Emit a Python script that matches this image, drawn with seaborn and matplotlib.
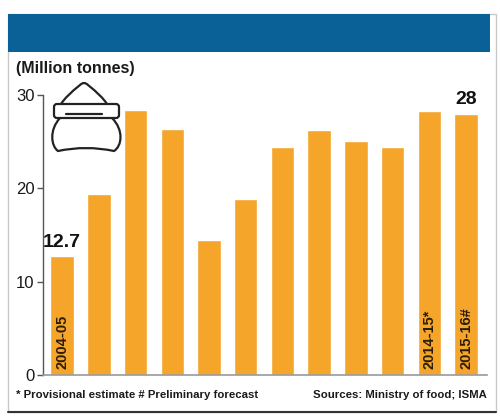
import matplotlib
matplotlib.use("Agg")
import matplotlib.pyplot as plt
import seaborn as sns
import pandas as pd
from matplotlib.patches import Rectangle, FancyBboxPatch, PathPatch
from matplotlib.path import Path

seasons = ["2004-05", "2005-06", "2006-07", "2007-08", "2008-09", "2009-10",
           "2010-11", "2011-12", "2012-13", "2013-14", "2014-15*", "2015-16#"]
production = [12.7, 19.4, 28.4, 26.4, 14.5, 18.9, 24.4, 26.3, 25.1, 24.4, 28.3, 28.0]
shown_labels = {0: "2004-05", 10: "2014-15*", 11: "2015-16#"}
value_labels = {0: "12.7", 11: "28"}
yticks = [0, 10, 20, 30]

df = pd.DataFrame({"season": seasons, "production": production})

sns.set_theme(style="white")
plt.rcParams["font.family"] = ["Liberation Sans", "DejaVu Sans"]

bar_color = "#F5A52A"
text_color = "#1a1a1a"

fig = plt.figure(figsize=(5, 4.16), dpi=100)
W, H = 500, 416

def fx(px):
    return px / W

def fy(py):
    return 1 - py / H

# frame and blue header band (behind the axes)
fig.patches.append(Rectangle((fx(8), fy(412)), fx(488), 398 / H, transform=fig.transFigure,
                             facecolor="white", edgecolor="#c8c8c8", linewidth=1.0, zorder=-2))
fig.patches.append(Rectangle((fx(8), fy(52)), fx(482), 38 / H, transform=fig.transFigure,
                             facecolor="#0a6197", edgecolor="none", zorder=-1))
fig.lines.append(plt.Line2D([fx(8), fx(496)], [fy(412), fy(412)], transform=fig.transFigure,
                            color="#333333", linewidth=1.5, zorder=-1))

ax = fig.add_axes([fx(43), fy(375), fx(444), 280 / H])
sns.barplot(data=df, x="season", y="production", color=bar_color, width=0.64,
            saturation=1, ax=ax)
ax.set_xlim(-0.52, 11.57)
ax.set_ylim(0, 30)
ax.set_yticks(yticks)
ax.set_yticklabels([str(t) for t in yticks], fontsize=12, color=text_color)
ax.set_xticks([])
ax.set_xlabel("")
ax.set_ylabel("")
ax.patch.set_alpha(0)
for side in ["top", "right"]:
    ax.spines[side].set_visible(False)
ax.spines["left"].set_color("#555555")
ax.spines["left"].set_linewidth(1.0)
ax.spines["bottom"].set_color("#9a9a9a")
ax.spines["bottom"].set_linewidth(1.2)
ax.tick_params(axis="y", left=True, length=4, width=1, color="#555555", pad=2)

for i, lab in shown_labels.items():
    ax.text(i, 0.6, lab, rotation=90, ha="center", va="bottom", fontsize=10.5,
            color="#2a1d08", fontweight="semibold")
for i, lab in value_labels.items():
    ax.text(i, production[i] + 0.6, lab, ha="center", va="bottom", fontsize=14,
            color="#111111", fontweight="semibold", clip_on=False)

fig.text(fx(16), fy(68), "(Million tonnes)", fontsize=11.5, color=text_color,
         va="center", ha="left", fontweight="semibold")
fig.text(fx(16), fy(395), "* Provisional estimate # Preliminary forecast", fontsize=8.2,
         color=text_color, va="center", ha="left", fontweight="semibold")
fig.text(fx(487), fy(395), "Sources: Ministry of food; ISMA", fontsize=8.2,
         color=text_color, va="center", ha="right", fontweight="semibold")

# sack icon
icon = fig.add_axes([fx(50), fy(155), fx(76), 75 / H])
icon.set_xlim(50, 126)
icon.set_ylim(155, 80)
icon.axis("off")
lw = 1.6
ink = "#222222"
M, C3, C4, L = Path.MOVETO, Path.CURVE3, Path.CURVE4, Path.LINETO
dome = Path([(61, 104), (66, 96), (80, 85), (84, 81), (88, 85), (102, 96), (107, 104)],
            [M, C3, C3, C3, C3, C3, C3])
icon.add_patch(PathPatch(dome, facecolor="none", edgecolor=ink, linewidth=lw))
icon.add_patch(FancyBboxPatch((54, 104), 65, 14, boxstyle="round,pad=0,rounding_size=3",
                              facecolor="white", edgecolor=ink, linewidth=lw))
icon.plot([66, 102], [114, 114], color=ink, linewidth=lw)
body = Path([(60, 118), (49, 130), (51, 146), (58, 151),
             (86, 145), (114, 151),
             (122, 146), (124, 130), (112, 118)],
            [M, C4, C4, C4, C3, C3, C4, C4, C4])
icon.add_patch(PathPatch(body, facecolor="none", edgecolor=ink, linewidth=lw))

fig.savefig("out.png", dpi=100)
